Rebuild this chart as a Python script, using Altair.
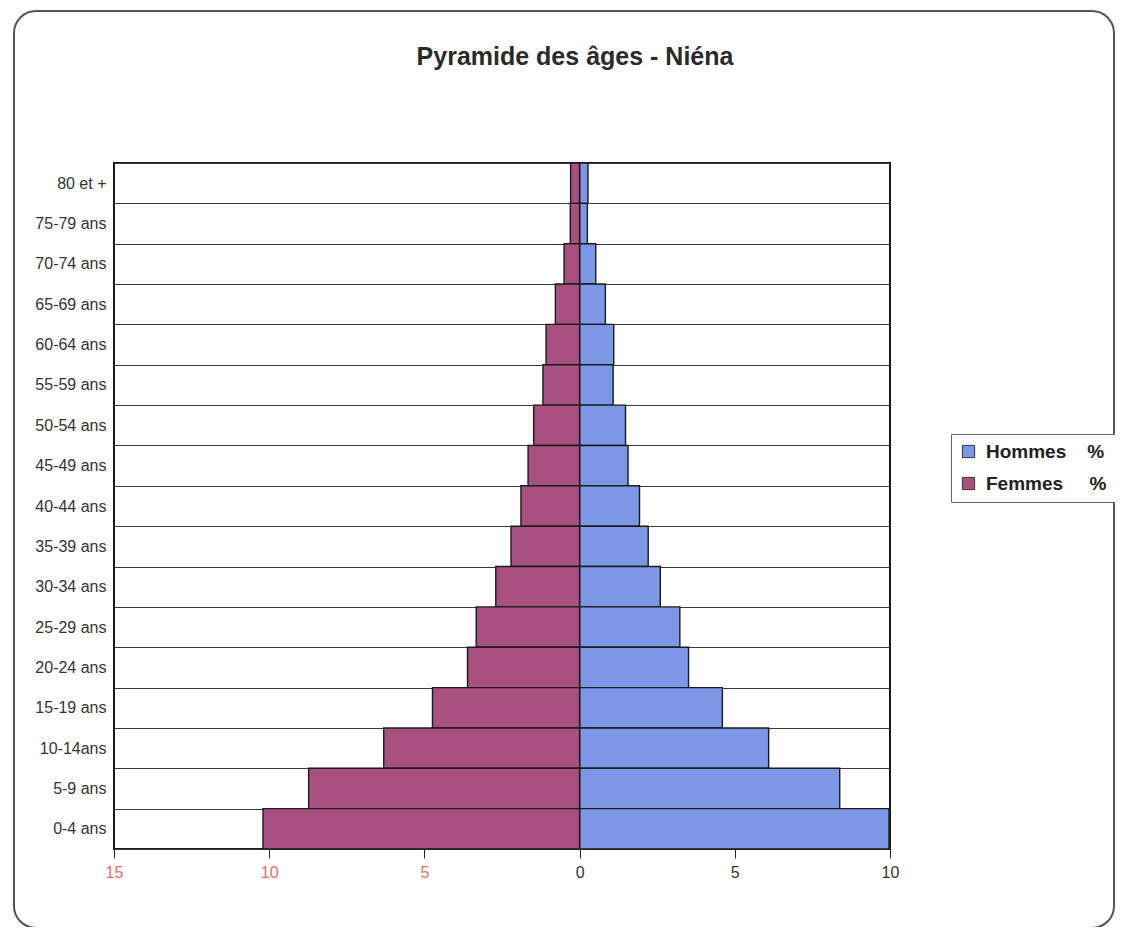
import altair as alt
import pandas as pd

title_text = ["Pyramide des âges - Niéna"]
ages = ["80 et +", "75-79 ans", "70-74 ans", "65-69 ans", "60-64 ans", "55-59 ans",
        "50-54 ans", "45-49 ans", "40-44 ans", "35-39 ans", "30-34 ans", "25-29 ans",
        "20-24 ans", "15-19 ans", "10-14ans", "5-9 ans", "0-4 ans"]
hommes = [0.27, 0.25, 0.52, 0.83, 1.10, 1.08, 1.48, 1.56, 1.93, 2.21, 2.60, 3.23,
          3.51, 4.60, 6.09, 8.38, 9.97]
femmes = [0.29, 0.30, 0.50, 0.78, 1.08, 1.18, 1.48, 1.66, 1.89, 2.21, 2.70, 3.33,
          3.61, 4.74, 6.31, 8.73, 10.20]
series = ["Hommes\u00a0\u00a0\u00a0\u00a0%", "Femmes\u00a0\u00a0\u00a0\u00a0\u00a0%"]
x_ticks = [-15, -10, -5, 0, 5, 10]

rows = []
for a, h, f in zip(ages, hommes, femmes):
    rows.append({"age": a, "sexe": series[0], "pct": h, "sign": 1})
    rows.append({"age": a, "sexe": series[1], "pct": f, "sign": -1})
df = pd.DataFrame(rows)

FONT = "Liberation Sans"

bars = alt.Chart(df).transform_calculate(
    val="datum.pct * datum.sign"
).mark_bar(stroke="#1a1a1a", strokeWidth=1.4).encode(
    y=alt.Y("age:N", sort=ages,
            scale=alt.Scale(paddingInner=0, paddingOuter=0),
            axis=alt.Axis(title=None, ticks=False, domain=False, grid=True,
                          tickBand="extent", gridColor="#3a3a3a", gridWidth=1,
                          labelFont=FONT, labelFontSize=16, labelColor="#333333",
                          labelPadding=8)),
    x=alt.X("val:Q", stack=None,
            scale=alt.Scale(domain=[-15, 10], nice=False, zero=False),
            axis=alt.Axis(title=None, values=x_ticks, grid=False, domain=False,
                          labelExpr="abs(datum.value)", labelFlush=False,
                          labelColor={"condition": {"test": "datum.value < 0", "value": "#e36d6d"},
                                      "value": "#333333"},
                          labelFont=FONT, labelFontSize=16, labelPadding=6,
                          tickColor="#222222", tickSize=9, tickWidth=1)),
    color=alt.Color("sexe:N", sort=series,
                    scale=alt.Scale(domain=series, range=["#7b97e6", "#a8507f"]),
                    legend=alt.Legend(title=None, orient="none", legendX=837, legendY=271,
                                      symbolType="square", symbolSize=150,
                                      symbolStrokeColor="#333333", symbolStrokeWidth=1,
                                      labelFont=FONT, labelFontSize=19, labelFontWeight="bold",
                                      labelColor="#222222", labelOffset=8,
                                      strokeColor="#666666", fillColor="white",
                                      padding=8, rowPadding=12, labelLimit=300))
)

frame = alt.Chart(alt.Data(values=[{"f": 1}])).mark_rect(
    fill=None, stroke="#555555", strokeWidth=2, cornerRadius=22
).encode(x=alt.value(-100), x2=alt.value(1000), y=alt.value(-152), y2=alt.value(765))

title = alt.Chart(pd.DataFrame({"t": title_text})).mark_text(
    font=FONT, fontSize=25, fontWeight="bold", color="#2a2a2a",
    align="center", baseline="alphabetic"
).encode(text="t:N", x=alt.value(461), y=alt.value(-98))

chart = alt.layer(frame, bars, title).properties(
    width=776, height=686,
    autosize=alt.AutoSizeParams(type="none"),
    padding={"left": 106, "top": 155, "right": 225, "bottom": 78}
).configure_view(stroke="#1a1a1a", strokeWidth=2)

chart.save("out.html", embed_options={"renderer": "svg", "actions": False})
